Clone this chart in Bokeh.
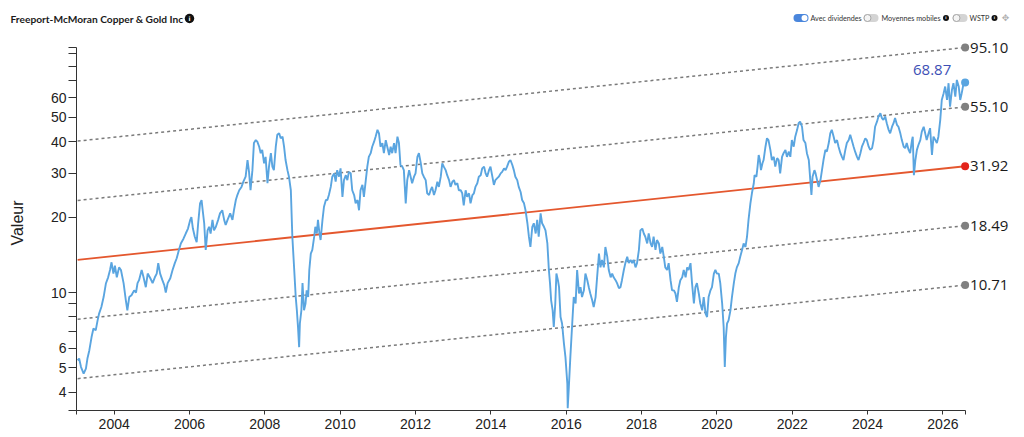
from bokeh.plotting import figure
from bokeh.layouts import column
from bokeh.models import Range1d, FixedTicker, PrintfTickFormatter, Label
from bokeh.core.properties import value
from bokeh.embed import file_html
from bokeh.resources import INLINE
import math

# ---- price series (decimal year, value) ----
dates_a = [
    2003.03, 2003.07, 2003.12, 2003.19, 2003.25, 2003.29, 2003.34, 2003.40, 2003.45, 2003.51,
    2003.56, 2003.60, 2003.66, 2003.72, 2003.78, 2003.84, 2003.89, 2003.93, 2003.98, 2004.02,
    2004.07, 2004.13, 2004.18, 2004.25, 2004.31, 2004.35, 2004.40, 2004.46, 2004.53, 2004.58,
    2004.62, 2004.66, 2004.73, 2004.78, 2004.84, 2004.89, 2004.96, 2005.02, 2005.08, 2005.13,
    2005.17, 2005.22, 2005.28, 2005.33, 2005.37, 2005.42, 2005.49, 2005.55, 2005.61, 2005.66,
    2005.72, 2005.77, 2005.84, 2005.90, 2005.96, 2006.02, 2006.05, 2006.09, 2006.14, 2006.19,
    2006.23, 2006.28, 2006.32, 2006.35, 2006.39, 2006.43, 2006.48, 2006.52, 2006.56, 2006.61,
    2006.65, 2006.70, 2006.76, 2006.81, 2006.87, 2006.92, 2006.96, 2007.01, 2007.08, 2007.14,
    2007.18, 2007.23, 2007.27, 2007.32, 2007.38, 2007.43, 2007.49, 2007.54, 2007.58, 2007.62,
    2007.67, 2007.71, 2007.76, 2007.80, 2007.85, 2007.89, 2007.93, 2007.98, 2008.02, 2008.07,
    2008.11, 2008.16, 2008.20, 2008.24, 2008.29, 2008.33, 2008.38, 2008.42, 2008.47, 2008.51,
    2008.55, 2008.60, 2008.64,
]
prices_a = [
    5.36, 5.45, 5.04, 4.74, 4.97, 5.45, 5.87, 6.64, 7.18, 7.06,
    7.74, 8.24, 8.75, 9.59, 10.86, 11.5, 12.3, 13.2, 11.9, 12.8,
    11.5, 12.6, 12.3, 10.9, 9.31, 8.49, 9.59, 9.75, 10.2, 10.0,
    10.9, 11.2, 12.3, 11.5, 10.5, 11.9, 11.4, 10.9, 11.5, 11.9,
    13.1, 11.9, 11.2, 10.7, 10.0, 10.9, 11.4, 12.3, 13.1, 13.7,
    14.8, 15.7, 16.4, 17.2, 18.0, 19.5, 20.0, 18.0, 16.7, 15.9,
    18.9, 22.7, 23.4, 21.3, 18.9, 14.8, 17.7, 18.3, 17.2, 19.5,
    17.7, 18.3, 19.5, 20.7, 21.3, 19.5, 18.6, 19.5, 20.7, 19.5,
    21.3, 23.4, 24.5, 25.6, 26.4, 27.7, 29.0, 33.8, 30.3, 25.6,
    30.8, 39.5, 40.6, 40.0, 38.2, 36.0, 37.1, 32.8, 34.8, 27.3,
    31.8, 36.0, 31.8, 30.8, 38.2, 42.6, 43.2, 41.3, 41.9, 38.2,
    33.8, 30.8, 29.0,
]
dates_b = [
    2008.69, 2008.73, 2008.78, 2008.82, 2008.85, 2008.88, 2008.91, 2008.93, 2008.97, 2009.00,
    2009.04, 2009.08, 2009.11, 2009.15, 2009.18, 2009.22, 2009.26, 2009.31, 2009.34, 2009.38,
    2009.41, 2009.45, 2009.48, 2009.53, 2009.57, 2009.62, 2009.66, 2009.70, 2009.75, 2009.79,
    2009.84, 2009.88, 2009.92, 2009.97, 2010.01, 2010.06, 2010.10, 2010.15, 2010.19, 2010.23,
    2010.28, 2010.32, 2010.37, 2010.41, 2010.46, 2010.50, 2010.54, 2010.59, 2010.63, 2010.68,
    2010.72, 2010.76, 2010.81, 2010.85, 2010.90, 2010.94, 2010.99, 2011.03, 2011.07, 2011.12,
    2011.16, 2011.21, 2011.25, 2011.30, 2011.34, 2011.38, 2011.43, 2011.47, 2011.52, 2011.56,
    2011.60, 2011.65, 2011.69, 2011.74, 2011.78, 2011.83, 2011.87, 2011.91, 2011.96, 2012.00,
    2012.05, 2012.09, 2012.14, 2012.18, 2012.22, 2012.27, 2012.31, 2012.36, 2012.40, 2012.44,
    2012.49, 2012.53, 2012.58, 2012.62, 2012.67, 2012.71, 2012.75, 2012.80, 2012.84, 2012.89,
    2012.93, 2012.98, 2013.02, 2013.06, 2013.11, 2013.15, 2013.20, 2013.24, 2013.28, 2013.33,
    2013.37, 2013.42, 2013.46, 2013.51, 2013.55, 2013.59, 2013.64, 2013.68, 2013.73, 2013.77,
    2013.82, 2013.86, 2013.90, 2013.95, 2013.99, 2014.04, 2014.08, 2014.12, 2014.17, 2014.21,
    2014.26, 2014.30, 2014.35, 2014.39, 2014.43, 2014.48, 2014.52, 2014.57, 2014.61, 2014.65,
    2014.70, 2014.74, 2014.79, 2014.83, 2014.88, 2014.92,
]
prices_b = [
    25.6, 16.7, 12.3, 9.59, 8.49, 7.28, 6.05, 7.52, 8.49, 10.9,
    8.49, 9.04, 10.2, 9.59, 12.3, 14.3, 14.8, 16.7, 18.3, 17.2,
    19.5, 17.2, 16.2, 19.5, 22.0, 23.4, 23.4, 24.5, 26.4, 29.0,
    29.9, 27.7, 30.8, 29.0, 31.3, 24.1, 28.1, 29.4, 28.1, 30.3,
    29.9, 25.6, 24.5, 22.7, 23.4, 21.3, 25.6, 26.9, 24.1, 28.1,
    31.8, 34.8, 36.0, 38.2, 40.0, 41.9, 44.6, 43.2, 38.2, 39.5,
    36.0, 40.6, 38.2, 35.4, 38.2, 36.0, 39.5, 36.0, 41.9, 39.5,
    32.3, 31.8, 30.8, 22.7, 28.1, 30.8, 29.0, 27.3, 29.0, 29.9,
    34.8, 36.0, 32.8, 29.9, 29.0, 28.1, 24.9, 24.5, 25.6, 26.4,
    24.5, 25.6, 27.7, 26.4, 29.0, 32.8, 31.8, 30.8, 29.4, 28.1,
    26.4, 27.7, 28.1, 26.9, 27.3, 25.6, 25.6, 24.9, 22.3, 25.6,
    24.1, 24.9, 22.7, 24.5, 24.9, 26.4, 27.3, 29.0, 29.4, 31.3,
    31.8, 29.9, 29.0, 30.8, 31.8, 29.0, 26.9, 28.1, 28.6, 29.0,
    29.9, 30.3, 31.3, 30.8, 31.8, 33.3, 33.8, 32.3, 30.8, 29.0,
    28.1, 26.4, 25.2, 23.4, 22.7, 21.3,
]
dates_c = [
    2014.97, 2015.01, 2015.05, 2015.10, 2015.14, 2015.19, 2015.23, 2015.27, 2015.32, 2015.36,
    2015.41, 2015.45, 2015.50, 2015.54, 2015.57, 2015.60, 2015.64, 2015.67, 2015.71, 2015.74,
    2015.78, 2015.81, 2015.85, 2015.89, 2015.94, 2015.98, 2016.03, 2016.04, 2016.07, 2016.11,
    2016.16, 2016.20, 2016.25, 2016.29, 2016.34, 2016.38, 2016.42, 2016.47, 2016.51, 2016.56,
    2016.60, 2016.64, 2016.69, 2016.73, 2016.78, 2016.82, 2016.87, 2016.91, 2016.95, 2017.00,
    2017.04, 2017.09, 2017.13, 2017.18, 2017.22, 2017.26, 2017.31, 2017.35, 2017.40, 2017.44,
    2017.48, 2017.53, 2017.57, 2017.62, 2017.66, 2017.71, 2017.75, 2017.79, 2017.84, 2017.88,
    2017.93, 2017.97, 2018.02, 2018.06, 2018.10, 2018.15, 2018.19, 2018.24, 2018.28, 2018.32,
    2018.37, 2018.41, 2018.46, 2018.50, 2018.55, 2018.59, 2018.63, 2018.68, 2018.72, 2018.77,
    2018.81, 2018.86, 2018.90, 2018.94, 2018.99, 2019.03, 2019.08, 2019.12, 2019.17, 2019.21,
    2019.25, 2019.30, 2019.34, 2019.39, 2019.43, 2019.47, 2019.52, 2019.56, 2019.61, 2019.65,
    2019.70, 2019.74, 2019.78, 2019.83, 2019.87, 2019.92, 2019.96, 2020.00, 2020.05, 2020.09,
    2020.14, 2020.18, 2020.21, 2020.24, 2020.27, 2020.31, 2020.36, 2020.40, 2020.45, 2020.49,
    2020.53, 2020.58, 2020.62, 2020.67, 2020.71, 2020.76, 2020.80, 2020.84, 2020.89,
]
prices_c = [
    18.9, 16.7, 15.2, 18.3, 18.9, 17.2, 19.5, 16.7, 20.7, 18.9,
    18.3, 17.7, 15.7, 12.3, 10.9, 9.31, 8.49, 7.28, 9.04, 11.9,
    11.2, 10.5, 7.98, 7.52, 6.25, 5.52, 4.32, 3.45, 4.19, 5.52,
    7.52, 9.59, 9.04, 12.3, 9.91, 10.5, 9.59, 10.2, 11.9, 11.2,
    10.5, 9.91, 9.31, 8.75, 9.59, 11.5, 14.3, 12.6, 13.5, 12.6,
    15.2, 13.9, 12.3, 11.5, 11.9, 11.5, 11.2, 10.9, 10.4, 10.5,
    11.2, 12.3, 13.1, 13.9, 13.1, 13.5, 13.1, 13.5, 12.6, 13.1,
    14.8, 17.7, 18.0, 17.2, 16.7, 15.7, 17.2, 15.7, 15.2, 16.7,
    14.8, 16.2, 15.7, 14.3, 15.2, 13.9, 12.6, 12.3, 13.1, 11.2,
    10.2, 10.2, 9.91, 9.17, 10.5, 11.2, 11.5, 12.3, 11.5, 12.6,
    12.3, 13.1, 10.9, 9.04, 10.5, 10.9, 9.91, 9.04, 8.49, 9.59,
    8.24, 7.98, 9.59, 10.2, 10.5, 11.9, 12.3, 11.9, 11.9, 10.9,
    9.04, 7.28, 5.04, 6.64, 7.52, 7.74, 8.49, 9.59, 10.9, 11.9,
    12.6, 13.1, 13.9, 14.8, 15.7, 15.2, 16.7, 19.5, 22.7,
]
dates_d = [
    2020.93, 2020.98, 2021.00, 2021.05, 2021.08, 2021.11, 2021.14, 2021.17, 2021.21, 2021.24,
    2021.29, 2021.33, 2021.37, 2021.42, 2021.46, 2021.51, 2021.55, 2021.60, 2021.64, 2021.68,
    2021.73, 2021.77, 2021.82, 2021.86, 2021.91, 2021.95, 2021.99, 2022.04, 2022.08, 2022.13,
    2022.17, 2022.21, 2022.26, 2022.30, 2022.35, 2022.39, 2022.44, 2022.48, 2022.51, 2022.54,
    2022.59, 2022.62, 2022.66, 2022.70, 2022.75, 2022.79, 2022.83, 2022.88, 2022.92, 2022.97,
    2023.01, 2023.05, 2023.10, 2023.14, 2023.19, 2023.23, 2023.28, 2023.32, 2023.36, 2023.41,
    2023.45, 2023.50, 2023.54, 2023.58, 2023.63, 2023.67, 2023.72, 2023.76, 2023.81, 2023.85,
    2023.89, 2023.94, 2023.98, 2024.03, 2024.07, 2024.12, 2024.16, 2024.20, 2024.25, 2024.29,
    2024.34, 2024.38, 2024.42, 2024.47, 2024.51, 2024.56, 2024.60, 2024.65, 2024.69, 2024.73,
    2024.78, 2024.82, 2024.87, 2024.91, 2024.96, 2025.00, 2025.04, 2025.09, 2025.13, 2025.18,
    2025.20, 2025.23, 2025.27, 2025.31, 2025.35, 2025.40, 2025.44, 2025.49, 2025.53, 2025.57,
    2025.62, 2025.66, 2025.71, 2025.75, 2025.80, 2025.84, 2025.88, 2025.93, 2025.97, 2026.02,
    2026.06, 2026.11, 2026.15, 2026.19, 2026.24, 2026.28, 2026.33, 2026.37, 2026.42, 2026.46,
    2026.50, 2026.55, 2026.59,
]
prices_d = [
    24.9, 27.3, 29.4, 29.0, 31.8, 35.4, 33.8, 30.8, 32.8, 33.8,
    38.2, 41.3, 40.6, 37.1, 33.8, 34.8, 31.8, 34.4, 33.8, 29.9,
    34.8, 36.0, 37.1, 34.8, 36.5, 34.8, 40.6, 38.2, 41.9, 44.6,
    47.4, 48.1, 45.9, 40.6, 39.5, 36.0, 33.8, 28.1, 24.5, 29.0,
    30.8, 29.9, 28.1, 26.4, 28.1, 30.8, 33.8, 37.1, 36.5, 39.5,
    43.2, 44.6, 41.9, 39.5, 40.6, 38.2, 36.0, 34.8, 33.8, 37.1,
    39.5, 40.6, 42.6, 40.6, 38.2, 36.5, 34.8, 33.8, 36.0, 38.2,
    39.5, 41.3, 40.6, 38.2, 37.1, 37.7, 40.6, 45.9, 48.1, 50.4,
    52.0, 49.7, 48.9, 50.4, 47.4, 44.6, 43.2, 45.9, 47.4, 49.7,
    46.7, 45.9, 43.2, 40.6, 38.2, 37.7, 39.5, 37.1, 36.0, 40.6,
    41.9, 29.4, 33.8, 37.1, 38.8, 40.6, 43.9, 45.9, 43.2, 40.6,
    43.2, 45.3, 35.4, 41.9, 40.6, 39.5, 41.9, 48.9, 58.7, 62.5,
    66.4, 58.7, 68.5, 55.2, 64.4, 68.5, 60.5, 70.6, 66.4, 58.7,
    62.5, 68.5, 68.87,
]

# ---- regression channel (value of each line at start / end) ----
band_start = [4.53, 7.82, 13.50, 23.31, 40.23]
band_end = [10.71, 18.49, 31.92, 55.10, 95.10]
band_is_trend = [False, False, True, False, False]

# ---- axes ----
x_axis_start, x_axis_end = 2003.0, 2026.6
y_axis_min, y_axis_max = 3.38, 95.10
x_ticks = [2004, 2006, 2008, 2010, 2012, 2014, 2016, 2018, 2020, 2022, 2024, 2026]
y_ticks = [4, 5, 6, 10, 20, 30, 40, 50, 60]
y_minor_ticks = [7, 8, 9, 70, 80, 90]

title_text = "Freeport-McMoran Copper & Gold Inc"
toggle_texts = ["Avec dividendes", "Moyennes mobiles", "WSTP"]
toggle_on = [True, False, False]
y_axis_label = "Valeur"

dates = dates_a + dates_b + dates_c + dates_d
prices = prices_a + prices_b + prices_c + prices_d

PRICE_COLOR = "#5aa5e0"
TREND_COLOR = "#e4572e"
BAND_COLOR = "#7a7a7a"

# ---------------- geometry (page pixels) ----------------
W, H = 1024, 437
HEADER_H = 35
AX_LEFT, AX_RIGHT = 76, 965     # x-axis line extent
AX_TOP, AX_BOTTOM = 47, 410     # y-axis line extent
main_h = H - HEADER_H
frame_top = HEADER_H            # main frame extends up to header
px_per_year = (AX_RIGHT - AX_LEFT) / (x_axis_end - x_axis_start)
x_range_end = x_axis_start + (W - AX_LEFT) / px_per_year
px_per_decade = (AX_BOTTOM - AX_TOP) / math.log10(y_axis_max / y_axis_min)
y_range_top = y_axis_max * 10 ** ((AX_TOP - frame_top) / px_per_decade)

# ---------------- header figure ----------------
hd = figure(width=W, height=HEADER_H, output_backend="svg", toolbar_location=None,
            x_range=Range1d(0, W), y_range=Range1d(HEADER_H, 0),
            x_axis_location=None, y_axis_location=None,
            min_border_left=0, min_border_right=0, min_border_top=0, min_border_bottom=0)
hd.frame_align = False
hd.outline_line_color = None
hd.grid.visible = False

hd.text(x=[10], y=[18], text=[title_text], text_font=value("Lato"), text_font_style="bold",
        text_font_size="10.2px", text_baseline="middle", text_align="left", text_color="#1a1a1a")


def info_icon(cx, cy, d):
    hd.scatter([cx], [cy], size=d, fill_color="#111111", line_color=None)
    hd.text(x=[cx], y=[cy + 0.3], text=["i"], text_font=value("DejaVu Sans"), text_font_style="bold",
            text_font_size=f"{d * 0.62:.1f}px", text_align="center", text_baseline="middle",
            text_color="white")


info_icon(189, 18, 9.5)

toggle_cx = [800.5, 870.5, 959.5]
text_x = [810, 881, 969]
TY = 17.5
for cx, lx, txt, on in zip(toggle_cx, text_x, toggle_texts, toggle_on):
    track = "#4a86dc" if on else "#d4d4d4"
    hd.rect(x=[cx], y=[TY], width=6, height=8, fill_color=track, line_color=None)
    hd.scatter([cx - 3.5, cx + 3.5], [TY, TY], size=8, fill_color=track, line_color=None)
    if on:
        hd.scatter([cx + 3.5], [TY], size=6, fill_color="white", line_color=None)
    else:
        hd.scatter([cx - 3.5], [TY], size=7, fill_color="#f4f4f4", line_color="#a8a8a8",
                   line_width=1)
    hd.text(x=[lx], y=[TY], text=[txt], text_font=value("Lato"), text_font_size="7.2px",
            text_baseline="middle", text_align="left", text_color="#333333")
info_icon(945.5, 17.5, 6)
info_icon(994, 17.5, 6)
hd.text(x=[1005], y=[17.5], text=["\u2725"], text_font=value("DejaVu Sans"), text_font_size="9px",
        text_baseline="middle", text_align="center", text_color="#b0b0b0")

# ---------------- main figure ----------------
p = figure(width=W, height=main_h, output_backend="svg", toolbar_location=None,
           y_axis_type="log",
           x_range=Range1d(x_axis_start, x_range_end), y_range=Range1d(y_axis_min, y_range_top),
           min_border_left=AX_LEFT, min_border_right=0, min_border_top=0,
           min_border_bottom=H - AX_BOTTOM)
p.frame_align = False
p.outline_line_color = None
p.grid.visible = False

xa = p.xaxis[0]
xa.bounds = (x_axis_start, x_axis_end)
# end ticks (outer ticks) drawn as unlabeled minor ticks
xa.ticker = FixedTicker(ticks=x_ticks, minor_ticks=[x_axis_start, x_axis_end])
xa.formatter = PrintfTickFormatter(format="%d")
xa.major_tick_out = 4
xa.major_tick_in = 0
xa.minor_tick_out = 4
xa.minor_tick_in = 0
xa.major_label_standoff = 4
xa.axis_line_color = "#333333"
xa.major_tick_line_color = "#333333"
xa.minor_tick_line_color = "#333333"
xa.major_label_text_font = "Liberation Sans"
xa.major_label_text_font_size = "14px"
xa.major_label_text_color = "#222222"

ya = p.yaxis[0]
ya.bounds = (y_axis_min, y_axis_max)
ya.ticker = FixedTicker(ticks=y_ticks, minor_ticks=y_minor_ticks + [y_axis_min, y_axis_max])
ya.formatter = PrintfTickFormatter(format="%d")
ya.major_tick_out = 8
ya.major_tick_in = 0
ya.minor_tick_out = 8
ya.minor_tick_in = 0
ya.major_label_standoff = 2
ya.axis_line_color = "#333333"
ya.major_tick_line_color = "#333333"
ya.minor_tick_line_color = "#333333"
ya.major_label_text_font = "Liberation Sans"
ya.major_label_text_font_size = "14px"
ya.major_label_text_color = "#222222"
ya.axis_label = y_axis_label
ya.axis_label_text_font = "Liberation Sans"
ya.axis_label_text_font_size = "16px"
ya.axis_label_text_font_style = "normal"
ya.axis_label_text_color = "#222222"
ya.axis_label_standoff = 22

# channel lines
x0, x1 = dates[0], dates[-1]
marker_colors = []
for s, e, is_trend in zip(band_start, band_end, band_is_trend):
    if is_trend:
        p.line([x0, x1], [s, e], line_color=TREND_COLOR, line_width=1.8)
        marker_colors.append("#e3241b")
    else:
        p.line([x0, x1], [s, e], line_color=BAND_COLOR, line_width=1.5, line_dash="3 3")
        marker_colors.append("#808080")

# price series
p.line(dates, prices, line_color=PRICE_COLOR, line_width=1.9)

p.scatter([x1] * len(band_end), band_end, size=8, fill_color=marker_colors, line_color=None)
p.scatter([dates[-1]], [prices[-1]], size=8, fill_color=PRICE_COLOR, line_color=None)

for v in band_end:
    p.add_layout(Label(x=x1, y=v, text=f"{v:.2f}", x_offset=5, text_baseline="middle",
                       text_align="left", text_font="Open Sans", text_font_size="15px",
                       text_color="#1a1a1a"))
p.add_layout(Label(x=dates[-1], y=prices[-1], text=f"{prices[-1]:.2f}", x_offset=-33, y_offset=13,
                   text_baseline="middle", text_align="center", text_font="Open Sans",
                   text_font_size="15px", text_color="#3d4fb5"))

layout = column(hd, p, spacing=0)
open("out.html", "w").write(file_html(layout, INLINE))
